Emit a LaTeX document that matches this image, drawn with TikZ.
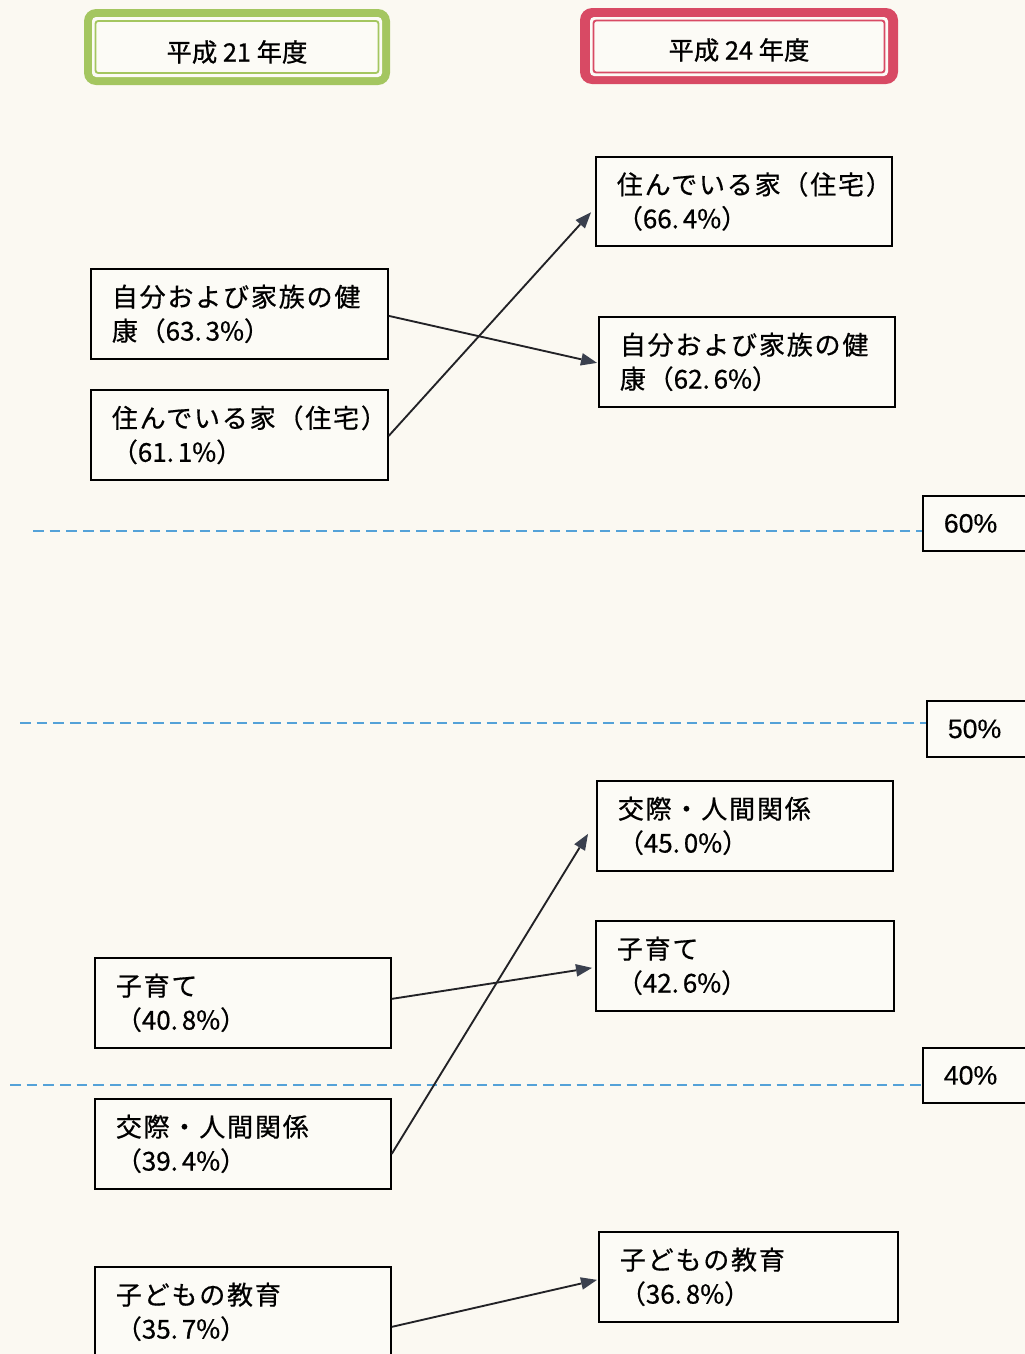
\documentclass[tikz,border=0pt]{standalone}
\usepackage{fontspec}
\newfontfamily\jp[LetterSpace=7,FakeBold=0.6]{Noto Sans CJK JP}
\newfontfamily\jpn[FakeBold=0.6]{Noto Sans CJK JP}
\newfontfamily\jph[FakeBold=0.8]{Noto Sans CJK JP}
\newfontfamily\lat[FakeBold=0.3]{Liberation Sans}
\usetikzlibrary{arrows.meta,calc}
\definecolor{bg}{RGB}{251,249,242}
\definecolor{boxfill}{RGB}{252,251,246}
\definecolor{hgreen}{RGB}{164,198,96}
\definecolor{hred}{RGB}{216,74,100}
\definecolor{dashblue}{RGB}{84,162,216}
\definecolor{arrline}{RGB}{34,34,38}
\definecolor{arrhead}{RGB}{58,64,78}
\newcommand\pct[2]{{\jpn #1.\hspace{0.15em}#2\%}}
\tikzset{
  itembox/.style={draw=black, line width=1.3pt, fill=boxfill, anchor=north west,
    minimum height=67.5pt, text width=#1, inner xsep=15.75pt, inner ysep=0pt,
    align=left, font=\jp\fontsize{19.5pt}{25.5pt}\selectfont},
  pctbox/.style={draw=black, line width=1.3pt, fill=boxfill, anchor=north west,
    minimum height=#1, text width=80pt, inner xsep=15.75pt, inner ysep=0pt,
    align=left, font=\lat\fontsize{20pt}{24pt}\selectfont},
  levelline/.style={draw=dashblue, line width=1.6pt, dash pattern=on 8pt off 4.5pt},
  arr/.style={draw=arrline, line width=1.4pt,
    -{Triangle[length=12pt,width=9.5pt,fill=arrhead,line width=0pt]}},
  hdrtext/.style={font=\jph\fontsize{19pt}{22pt}\selectfont, inner sep=0pt}
}
\begin{document}
\begin{tikzpicture}[x=0.75pt,y=-0.75pt]
\clip (0,0) rectangle (1025,1354);
\fill[bg] (0,0) rectangle (1025,1354);

% headers
\fill[hgreen, rounded corners=9pt] (84,9) rectangle (390,85);
\fill[boxfill, rounded corners=3pt] (92,17) rectangle (382,77);
\draw[hgreen, line width=1.4pt, rounded corners=2pt] (95.5,21) rectangle (378.5,73);
\node[hdrtext] (h21) at (237,52) {平成 21 年度};

\fill[hred, rounded corners=9pt] (580,8) rectangle (898,84);
\fill[boxfill, rounded corners=3pt] (590,17) rectangle (888,76);
\draw[hred, line width=1.4pt, rounded corners=2pt] (593.5,20.5) rectangle (884.5,72.5);
\node[hdrtext] (h24) at (739,50) {平成 24 年度};

% level lines and labels
\node[pctbox=41.25pt] (p60) at (922,495) {60\%};
\node[pctbox=42pt] (p50) at (926,700) {50\%};
\node[pctbox=41.25pt] (p40) at (922,1047) {40\%};
\coordinate (d60) at (33,531);
\coordinate (d50) at (20,723);
\coordinate (d40) at (10,1085);
\draw[levelline] (d60) -- (d60 -| p60.west);
\draw[levelline] (d50) -- (d50 -| p50.west);
\draw[levelline] (d40) -- (d40 -| p40.west);

% left column (H21)
\node[itembox=191.25pt] (lhealth) at (90,268) {自分および家族の健\\康（\pct{63}{3}）};
\node[itembox=191.25pt] (lhouse) at (90,389) {住んでいる家（住宅）\\（\pct{61}{1}）};
\node[itembox=190.5pt] (lkosodate) at (94,957) {子育て\\（\pct{40}{8}）};
\node[itembox=190.5pt] (lkousai) at (94,1098) {交際・人間関係\\（\pct{39}{4}）};
\node[itembox=190.5pt] (lkyouiku) at (94,1266) {子どもの教育\\（\pct{35}{7}）};

% right column (H24)
\node[itembox=190.5pt, minimum height=66.75pt] (rhouse) at (595,156) {住んでいる家（住宅）\\（\pct{66}{4}）};
\node[itembox=190.5pt] (rhealth) at (598,316) {自分および家族の健\\康（\pct{62}{6}）};
\node[itembox=190.5pt] (rkousai) at (596,780) {交際・人間関係\\（\pct{45}{0}）};
\node[itembox=192pt] (rkosodate) at (595,920) {子育て\\（\pct{42}{6}）};
\node[itembox=192.75pt] (rkyouiku) at (598,1231) {子どもの教育\\（\pct{36}{8}）};

% arrows
\draw[arr] ($(lhealth.east)+(0,2)$) -- ($(rhealth.west)+(-1,1)$);
\draw[arr] ($(lhouse.east)+(0,1)$) -- ($(rhouse.west)+(-4,11)$);
\draw[arr] ($(lkosodate.east)+(0,-4)$) -- ($(rkosodate.west)+(-3,2)$);
\draw[arr] ($(lkousai.east)+(0,10)$) -- ($(rkousai.west)+(-8,8)$);
\draw[arr] ($(lkyouiku.east)+(0,15)$) -- ($(rkyouiku.west)+(-1,3)$);
\end{tikzpicture}
\end{document}
